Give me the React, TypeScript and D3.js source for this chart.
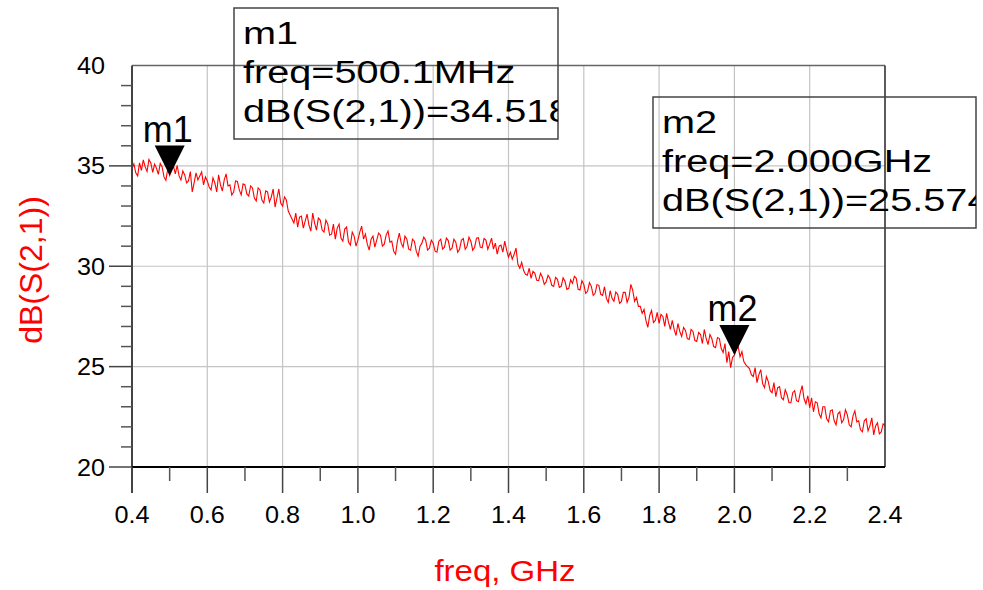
import React from "react";
import * as d3 from "d3";

// Sweep: 0.40 GHz to 2.40 GHz, 5 MHz step
const freqStart = 0.4;
const freqStep = 0.005;

// dB(S(2,1)) (401 sweep points)
const s21dB: number[] = [
  34.85, 35.10, 34.65, 34.50, 35.15, 34.78, 35.30, 34.95, 34.72, 35.32, 35.15, 34.68, 35.08, 34.88, 34.58, 35.12, 34.95, 34.45, 34.28, 34.85,
  34.52, 34.75, 35.00, 34.60, 35.02, 34.50, 34.30, 34.75, 34.55, 34.15, 34.25, 34.72, 33.70, 34.15, 34.65, 34.30, 34.50, 34.70, 34.05, 34.45,
  34.25, 33.95, 33.80, 34.40, 34.15, 33.70, 34.55, 34.05, 33.75, 34.30, 34.60, 34.00, 34.05, 33.55, 33.70, 34.25, 34.22, 33.80, 33.55, 34.10,
  34.05, 33.60, 33.50, 34.00, 33.90, 33.40, 33.25, 33.90, 33.80, 33.30, 33.15, 33.75, 33.70, 33.20, 33.45, 33.85, 32.95, 33.40, 33.85, 33.15,
  33.00, 33.45, 33.30, 32.75, 32.55, 32.35, 32.15, 32.65, 31.95, 32.45, 32.50, 31.90, 32.25, 32.60, 32.05, 31.75, 32.65, 32.15, 31.80, 32.40,
  32.30, 31.80, 31.70, 32.30, 32.10, 31.55, 31.60, 32.10, 31.35, 31.90, 32.10, 31.40, 31.25, 31.85, 31.95, 31.20, 31.05, 31.70, 31.50, 31.00,
  31.30, 31.70, 32.00, 31.35, 31.60, 31.10, 30.80, 31.35, 31.50, 30.95, 31.30, 31.65, 31.55, 31.00, 31.10, 31.55, 31.75, 31.20, 31.25, 30.75,
  30.60, 31.25, 31.65, 31.15, 30.95, 31.50, 31.35, 30.85, 30.80, 31.35, 31.25, 30.75, 30.50, 31.00, 31.15, 31.45, 31.30, 30.80, 30.90, 31.30,
  31.15, 30.75, 30.70, 31.25, 31.35, 30.85, 30.95, 31.40, 31.28, 30.80, 30.90, 31.35, 31.20, 30.70, 30.85, 31.30, 31.38, 30.85, 31.00, 31.45,
  31.25, 30.80, 30.95, 31.40, 31.42, 30.95, 30.92, 31.38, 31.30, 30.85, 31.10, 31.40, 30.85, 31.15, 30.60, 31.00, 31.05, 30.70, 31.25, 30.80,
  30.45, 30.70, 30.35, 30.60, 30.90, 30.10, 29.90, 30.20, 29.80, 29.60, 29.55, 29.90, 29.40, 29.75, 29.65, 29.30, 29.28, 29.65, 29.45, 29.10,
  29.22, 29.55, 29.40, 29.05, 29.00, 29.45, 29.35, 28.95, 29.00, 29.42, 29.25, 28.85, 28.90, 29.32, 29.15, 29.50, 29.40, 28.85, 28.82, 29.28,
  29.10, 28.65, 28.75, 29.18, 29.00, 28.55, 28.65, 29.08, 29.05, 28.60, 28.55, 28.98, 28.40, 28.20, 28.78, 28.40, 28.25, 28.72, 28.60, 28.15,
  28.25, 28.70, 28.70, 28.20, 28.45, 29.10, 28.80, 28.25, 28.45, 28.00, 28.00, 27.65, 27.85, 27.30, 26.95, 27.55, 27.80, 27.20, 27.30, 27.70,
  27.15, 27.60, 27.50, 27.00, 27.65, 27.20, 26.85, 27.30, 26.85, 26.55, 27.15, 26.75, 26.50, 26.95, 26.80, 26.40, 26.35, 26.85, 26.75, 26.30,
  26.25, 26.70, 26.60, 26.15, 26.85, 26.40, 26.10, 26.60, 26.40, 26.00, 25.95, 26.45, 26.40, 25.90, 25.70, 26.15, 25.20, 25.75, 24.95, 25.45,
  25.57, 25.85, 26.00, 25.50, 25.75, 25.25, 25.10, 25.00, 24.90, 24.60, 24.50, 24.95, 24.20, 24.60, 24.85, 24.15, 23.95, 24.50, 24.25, 23.80,
  23.70, 24.20, 23.50, 23.95, 24.00, 23.45, 23.35, 23.85, 23.60, 23.20, 23.20, 23.70, 23.80, 23.30, 23.25, 23.70, 24.05, 23.40, 23.15, 23.55,
  22.95, 23.45, 22.75, 23.25, 23.20, 22.65, 22.45, 23.00, 23.00, 22.40, 22.25, 22.80, 22.85, 22.30, 22.10, 22.65, 22.75, 22.20, 22.35, 22.85,
  22.60, 22.10, 22.00, 22.55, 22.80, 22.25, 22.30, 21.85, 21.75, 22.30, 22.40, 21.80, 22.05, 22.45, 21.60, 22.05, 22.20, 21.65, 21.75, 22.15,
  22.05,
];

const xTicks = [0.4, 0.6, 0.8, 1.0, 1.2, 1.4, 1.6, 1.8, 2.0, 2.2, 2.4];
const xMinorTicks = [0.5, 0.7, 0.9, 1.1, 1.3, 1.5, 1.7, 1.9, 2.1, 2.3];
const yTicks = [20, 25, 30, 35, 40];
const yMinorTicks = [21, 22, 23, 24, 26, 27, 28, 29, 31, 32, 33, 34, 36, 37, 38, 39];

const markerNames = ["m1", "m2"];
const markerFreqs = [0.5001, 2.0];
const markerValues = [34.518, 25.574];
const markerFreqLabels = ["500.1MHz", "2.000GHz"];

const FONT = "'Liberation Sans', Arial, Helvetica, sans-serif";

export default function App() {
  const x = d3.scaleLinear().domain([0.4, 2.4]).range([132, 885]);
  const y = d3.scaleLinear().domain([20, 40]).range([467, 65.5]);

  const pts: [number, number][] = s21dB.map((v, i) => [freqStart + i * freqStep, v]);
  const line = d3
    .line<[number, number]>()
    .x((d) => x(d[0]))
    .y((d) => y(d[1]));

  const x0 = x(0.4);
  const x1 = x(2.4);
  const yTop = y(40);
  const yBot = y(20);

  const boxes = [
    { left: 234, top: 8, w: 324, h: 131 },
    { left: 653, top: 97, w: 323, h: 131 },
  ];

  return (
    <svg
      width={983}
      height={590}
      style={{ position: "absolute", left: 0, top: 0, background: "#fff" }}
      fontFamily={FONT}
    >
      <defs>
        {boxes.map((b, i) => (
          <clipPath id={`clipbox${i}`} key={i}>
            <rect x={b.left} y={b.top} width={b.w} height={b.h} />
          </clipPath>
        ))}
        <clipPath id="plotclip">
          <rect x={x0} y={yTop - 2} width={x1 - x0} height={yBot - yTop + 2} />
        </clipPath>
      </defs>

      {/* grid */}
      {xTicks.slice(1, -1).map((t) => (
        <line key={`gx${t}`} x1={x(t)} x2={x(t)} y1={yTop} y2={yBot} stroke="#c4c4c4" strokeWidth={1.2} />
      ))}
      {yTicks.slice(1, -1).map((t) => (
        <line key={`gy${t}`} x1={x0} x2={x1} y1={y(t)} y2={y(t)} stroke="#c4c4c4" strokeWidth={1.2} />
      ))}

      {/* trace */}
      <path d={line(pts) || ""} fill="none" stroke="#ff0000" strokeWidth={1.1} clipPath="url(#plotclip)" />

      {/* frame */}
      <line x1={x0} x2={x1} y1={yTop} y2={yTop} stroke="#666" strokeWidth={1.6} />
      <line x1={x1} x2={x1} y1={yTop} y2={yBot} stroke="#333" strokeWidth={1.6} />
      <line x1={x0} x2={x0} y1={yTop} y2={yBot + 26} stroke="#444" strokeWidth={2} />
      <line x1={x0} x2={x1} y1={yBot} y2={yBot} stroke="#000" strokeWidth={2} />

      {/* y ticks */}
      {yTicks.slice(0, -1).map((t) => (
        <line key={`ty${t}`} x1={x0 - 23} x2={x0} y1={y(t)} y2={y(t)} stroke="#444" strokeWidth={1.5} />
      ))}
      {yMinorTicks.map((t) => (
        <line key={`tym${t}`} x1={x0 - 11} x2={x0} y1={y(t)} y2={y(t)} stroke="#555" strokeWidth={1.5} />
      ))}
      {yTicks.map((t) => (
        <text
          key={`ly${t}`}
          transform={`translate(${x0 - 27},${y(t) + 8.5}) scale(1.05,1)`}
          textAnchor="end"
          fontSize={24}
          fill="#000"
        >
          {t}
        </text>
      ))}

      {/* x ticks */}
      {xTicks.slice(0, -1).map((t) => (
        <line key={`tx${t}`} x1={x(t)} x2={x(t)} y1={yBot} y2={yBot + 26} stroke="#444" strokeWidth={1.5} />
      ))}
      {xMinorTicks.map((t) => (
        <line key={`txm${t}`} x1={x(t)} x2={x(t)} y1={yBot} y2={yBot + 14} stroke="#555" strokeWidth={1.5} />
      ))}
      {xTicks.map((t) => (
        <text
          key={`lx${t}`}
          transform={`translate(${x(t)},${523}) scale(1.05,1)`}
          textAnchor="middle"
          fontSize={24}
          fill="#000"
        >
          {t.toFixed(1)}
        </text>
      ))}

      {/* axis titles */}
      <text transform="translate(505,581) scale(1.1,1)" textAnchor="middle" fontSize={30} fill="#ff0000">
        freq, GHz
      </text>
      <text transform={`translate(42,270) rotate(-90)`} textAnchor="middle" fontSize={32} fill="#ff0000">
        dB(S(2,1))
      </text>

      {/* markers */}
      {markerNames.map((m, i) => {
        const mx = x(markerFreqs[i]);
        const my = y(markerValues[i]);
        const tri = `M${mx - 15},${my - 30} L${mx + 15},${my - 30} L${mx},${my} Z`;
        return (
          <g key={m}>
            <path d={tri} fill="#000" />
            <text x={mx - 2} y={my - 34} textAnchor="middle" fontSize={36} fill="#000">
              {m}
            </text>
          </g>
        );
      })}

      {/* marker readout boxes */}
      {boxes.map((b, i) => (
        <g key={`box${i}`}>
          <rect x={b.left} y={b.top} width={b.w} height={b.h} fill="none" stroke="#444" strokeWidth={1.5} />
          <g clipPath={`url(#clipbox${i})`}>
            {[
              markerNames[i],
              `freq=${markerFreqLabels[i]}`,
              `dB(S(2,1))=${markerValues[i].toFixed(3)}`,
            ].map((s, k) => (
              <text
                key={k}
                transform={`translate(${b.left + 9},${b.top + 36 + k * 39}) scale(1.28,1)`}
                fontSize={31}
                fill="#000"
              >
                {s}
              </text>
            ))}
          </g>
        </g>
      ))}
    </svg>
  );
}
